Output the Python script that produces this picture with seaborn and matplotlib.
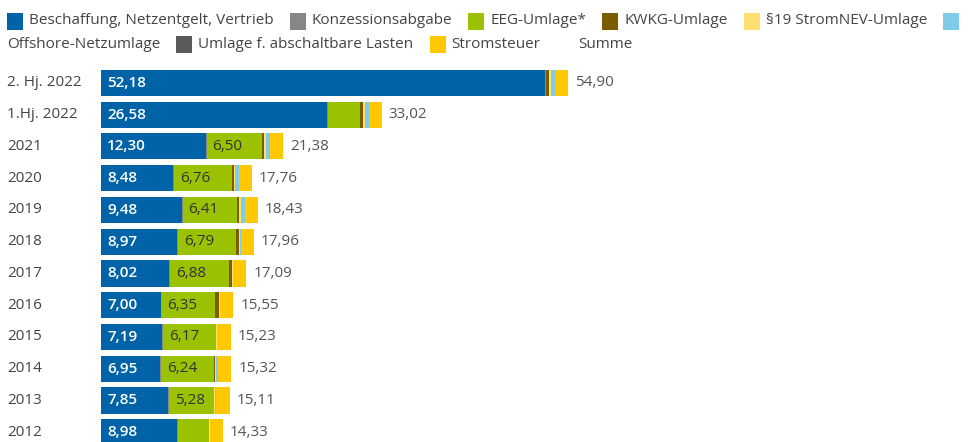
import matplotlib
matplotlib.use("Agg")
import matplotlib.pyplot as plt
import matplotlib.patches as mpatches
import seaborn as sns
import pandas as pd
import numpy as np

sns.set_theme(style="white")
plt.rcParams['font.family'] = ['Open Sans', 'DejaVu Sans']

years = ["2. Hj. 2022", "1.Hj. 2022", "2021", "2020", "2019", "2018", "2017",
         "2016", "2015", "2014", "2013", "2012"]
beschaffung = [52.18, 26.58, 12.30, 8.48, 9.48, 8.97, 8.02, 7.00, 7.19, 6.95, 7.85, 8.98]
konzession  = [0.11, 0.11, 0.11, 0.11, 0.11, 0.11, 0.11, 0.11, 0.11, 0.11, 0.11, 0.11]
eeg         = [0.00, 3.72, 6.50, 6.76, 6.41, 6.79, 6.88, 6.35, 6.17, 6.24, 5.28, 3.59]
kwkg        = [0.38, 0.38, 0.23, 0.23, 0.28, 0.32, 0.36, 0.39, 0.05, 0.05, 0.05, 0.00]
p19         = [0.26, 0.26, 0.29, 0.21, 0.18, 0.18, 0.17, 0.14, 0.13, 0.17, 0.08, 0.11]
offshore    = [0.42, 0.42, 0.40, 0.42, 0.42, 0.04, 0.00, 0.01, 0.04, 0.25, 0.19, 0.00]
abschaltbar = [0.01, 0.01, 0.01, 0.01, 0.01, 0.01, 0.01, 0.01, 0.00, 0.01, 0.01, 0.00]
stromsteuer = [1.54, 1.54, 1.54, 1.54, 1.54, 1.54, 1.54, 1.54, 1.54, 1.54, 1.54, 1.54]
summe       = [54.90, 33.02, 21.38, 17.76, 18.43, 17.96, 17.09, 15.55, 15.23, 15.32, 15.11, 14.33]

series = [
    ("Beschaffung, Netzentgelt, Vertrieb", beschaffung, "#0063A8"),
    ("Konzessionsabgabe", konzession, "#878787"),
    ("EEG-Umlage*", eeg, "#9BC200"),
    ("KWKG-Umlage", kwkg, "#7D5C00"),
    ("§19 StromNEV-Umlage", p19, "#FFE070"),
    ("Offshore-Netzumlage", offshore, "#7FCCE8"),
    ("Umlage f. abschaltbare Lasten", abschaltbar, "#5A5A5A"),
    ("Stromsteuer", stromsteuer, "#FFC800"),
]

W, H = 973, 442
FS = 11
fig = plt.figure(figsize=(W / 100, H / 100), dpi=100)
x0_px = 101
px_per_unit = 8.506
top_px = 67.1
row_px = 31.75
ax = fig.add_axes([x0_px / W, 0, 1 - x0_px / W, (H - top_px) / H])

# cumulative stacking: draw largest cumulative first
cum = np.zeros(len(years))
cums = []
for name, vals, col in series:
    cum = cum + np.array(vals)
    cums.append((name, cum.copy(), col))

for name, c, col in reversed(cums):
    df = pd.DataFrame({"year": years, "val": c})
    sns.barplot(data=df, x="val", y="year", order=years, orient="h",
                color=col, saturation=1, width=0.82, ax=ax, linewidth=0)

ax.set_xlim(0, (W - x0_px) / px_per_unit)
ax.set_ylim((H - 83) / row_px, -0.5)
ax.axis("off")

text_col = "#444444"
for i, y in enumerate(years):
    ax.text(-(x0_px - 7) / px_per_unit, i, y, ha="left", va="center",
            fontsize=FS, color=text_col)
    ax.text(6 / px_per_unit, i, f"{beschaffung[i]:.2f}".replace(".", ","),
            ha="left", va="center", fontsize=FS, color="white", fontweight="semibold")
    if eeg[i] >= 4:
        start = beschaffung[i] + konzession[i]
        ax.text(start + 6 / px_per_unit, i, f"{eeg[i]:.2f}".replace(".", ","),
                ha="left", va="center", fontsize=FS, color="#333333")
    ax.text(summe[i] + 7 / px_per_unit, i, f"{summe[i]:.2f}".replace(".", ","),
            ha="left", va="center", fontsize=FS, color="#555555")

# legend, flowing like inline HTML
fig.canvas.draw()
renderer = fig.canvas.get_renderer()
items = [(n, c) for n, _, c in series] + [("Summe", "#FFFFFF")]
x = 7
row_y = [21, 44]
r = 0
sq_w, sq_h = 16, 17
for name, col in items:
    if x + 6 > W:
        r += 1
        x = 7
    yc = row_y[r]
    fig.patches.append(mpatches.Rectangle((x / W, 1 - (yc + sq_h / 2) / H), sq_w / W, sq_h / H,
                                          transform=fig.transFigure, facecolor=col,
                                          edgecolor="none"))
    x += sq_w + 6
    t = fig.text(x / W, 1 - yc / H, name, ha="left", va="center",
                 fontsize=FS, color=text_col)
    w = t.get_window_extent(renderer).width
    if x + w > W:
        r += 1
        x = 7
        yc = row_y[r]
        t.set_position((x / W, 1 - yc / H))
    x += w + 16

fig.savefig("out.png", dpi=100)
